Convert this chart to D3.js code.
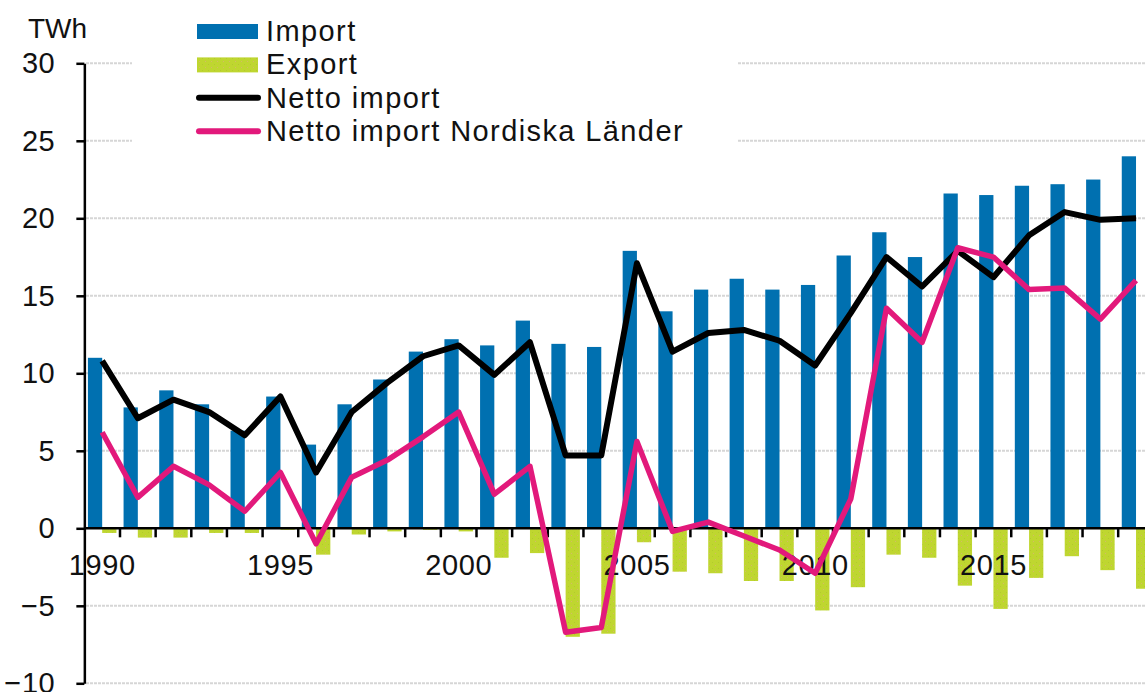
<!DOCTYPE html>
<html>
<head>
<meta charset="utf-8">
<script src="https://cdn.jsdelivr.net/npm/d3@7/dist/d3.min.js"></script>
<style>
  html, body { margin: 0; padding: 0; background: #fff; }
  svg { display: block; font-family: "Liberation Sans", Arial, sans-serif; }
</style>
</head>
<body>
<div class="chart"></div>
<script>
// data, TWh
const years = d3.range(1990, 2020);
const importValues = [11.0, 7.8, 8.9, 8.0, 6.3, 8.5, 5.4, 8.0, 9.6, 11.4,
  12.2, 11.8, 13.4, 11.9, 11.7, 17.9, 14.0, 15.4, 16.1, 15.4,
  15.7, 17.6, 19.1, 17.5, 21.6, 21.5, 22.1, 22.2, 22.5, 24.0];
const exportValues = [-0.3, -0.6, -0.6, -0.3, -0.3, -0.1, -1.7, -0.4, -0.2, -0.1,
  -0.2, -1.9, -1.6, -7.0, -6.8, -0.9, -2.8, -2.9, -3.4, -3.4,
  -5.3, -3.8, -1.7, -1.9, -3.7, -5.2, -3.2, -1.8, -2.7, -3.9];
const netImport = [10.8, 7.1, 8.3, 7.5, 6.0, 8.5, 3.6, 7.5, 9.4, 11.1,
  11.8, 9.9, 12.0, 4.7, 4.7, 17.1, 11.4, 12.6, 12.8, 12.1,
  10.5, 13.9, 17.5, 15.6, 17.9, 16.2, 18.9, 20.4, 19.9, 20.0];
const netNordic = [6.2, 2.0, 4.0, 2.8, 1.1, 3.6, -1.0, 3.3, 4.4, 5.9,
  7.5, 2.2, 4.0, -6.7, -6.4, 5.6, -0.2, 0.4, -0.5, -1.4,
  -2.9, 1.9, 14.2, 12.0, 18.1, 17.5, 15.4, 15.5, 13.5, 16.0];
const yTicks = [-10, -5, 0, 5, 10, 15, 20, 25, 30];
const labelYears = [1990, 1995, 2000, 2005, 2010, 2015];
const legendItems = ["Import", "Export", "Netto import", "Netto import Nordiska Länder"];

const width = 1145;
const height = 692;
const colors = { imp: "#0070b0", exp: "#bfd630", net: "#000000", nordic: "#e2197b" };

const svg = d3.select(".chart").append("svg")
  .attr("width", width)
  .attr("height", height);

// pattern for the dotted export bars
const defs = svg.append("defs");
const pat = defs.append("pattern")
  .attr("id", "dots")
  .attr("width", 6).attr("height", 6)
  .attr("patternUnits", "userSpaceOnUse");
pat.append("rect").attr("width", 6).attr("height", 6).attr("fill", colors.exp);
pat.append("rect").attr("x", 1).attr("y", 1).attr("width", 1).attr("height", 1).attr("fill", "#d4b86a");
pat.append("rect").attr("x", 4).attr("y", 4).attr("width", 1).attr("height", 1).attr("fill", "#b2cb2c");

// scales
const x = d3.scaleBand().domain(years).range([84.35, 84.35 + 35.65 * years.length]);
const x1 = d3.scaleBand().domain(["imp", "exp"]).range([0, x.bandwidth()]).paddingOuter(0.25);
const y = d3.scaleLinear().domain([-10, 30]).range([683.3, 63.3]);

// gridlines
svg.append("g")
  .selectAll("line")
  .data(yTicks.filter((d) => d !== 0))
  .enter()
  .append("line")
  .attr("x1", 86)
  .attr("x2", width)
  .attr("y1", (d) => y(d))
  .attr("y2", (d) => y(d))
  .attr("stroke", "#d6d6d6")
  .attr("stroke-width", 2)
  .attr("stroke-dasharray", "3,1");

// legend background covers the top gridlines
svg.append("rect")
  .attr("x", 132).attr("y", 0)
  .attr("width", 606).attr("height", 150)
  .attr("fill", "#fff");

// import bars
svg.append("g")
  .selectAll("rect")
  .data(years)
  .enter()
  .append("rect")
  .attr("x", (d) => x(d) + x1("imp"))
  .attr("width", x1.bandwidth())
  .attr("y", (d, i) => y(importValues[i]))
  .attr("height", (d, i) => y(0) - y(importValues[i]))
  .attr("fill", colors.imp);

// export bars
svg.append("g")
  .selectAll("rect")
  .data(years)
  .enter()
  .append("rect")
  .attr("x", (d) => x(d) + x1("exp"))
  .attr("width", x1.bandwidth())
  .attr("y", y(0))
  .attr("height", (d, i) => y(exportValues[i]) - y(0))
  .attr("fill", "url(#dots)");

// y axis
const yAxis = svg.append("g")
  .attr("transform", `translate(${x.range()[0]},0)`)
  .call(d3.axisLeft(y).tickValues(yTicks).tickSize(8).tickPadding(21).tickSizeOuter(0));
yAxis.select(".domain").attr("stroke", "#000").attr("stroke-width", 2.5);
yAxis.selectAll(".tick line").attr("stroke", "#000").attr("stroke-width", 2.5);
yAxis.selectAll(".tick text")
  .attr("font-size", 29)
  .attr("letter-spacing", 0.6)
  .attr("fill", "#111")
  .attr("font-family", "Liberation Sans, Arial, sans-serif");

// zero line with year ticks
svg.append("line")
  .attr("x1", x.range()[0])
  .attr("x2", width)
  .attr("y1", y(0))
  .attr("y2", y(0))
  .attr("stroke", "#000")
  .attr("stroke-width", 2.5);

svg.append("g")
  .selectAll("line")
  .data(years.slice(1))
  .enter()
  .append("line")
  .attr("x1", (d) => x(d))
  .attr("x2", (d) => x(d))
  .attr("y1", y(0))
  .attr("y2", y(0) + 9)
  .attr("stroke", "#000")
  .attr("stroke-width", 2.5);

svg.append("g")
  .selectAll("text")
  .data(labelYears)
  .enter()
  .append("text")
  .attr("x", (d) => x(d) + x.bandwidth() / 2)
  .attr("y", 575)
  .attr("text-anchor", "middle")
  .attr("font-size", 29)
  .attr("letter-spacing", 0.6)
  .attr("fill", "#111")
  .text((d) => d);

// lines
const line = (vals) => d3.line()
  .x((d) => x(d) + x.bandwidth() / 2)
  .y((d, i) => y(vals[i]))(years);

svg.append("path")
  .attr("d", line(netImport))
  .attr("fill", "none")
  .attr("stroke", colors.net)
  .attr("stroke-width", 6)
  .attr("stroke-linejoin", "round");

svg.append("path")
  .attr("d", line(netNordic))
  .attr("fill", "none")
  .attr("stroke", colors.nordic)
  .attr("stroke-width", 5.5)
  .attr("stroke-linejoin", "round");

// unit label
svg.append("text")
  .attr("x", 28).attr("y", 38)
  .attr("font-size", 28)
  .attr("fill", "#111")
  .text("TWh");

// legend
const legend = svg.append("g");
legendItems.forEach((name, i) => {
  const base = 41 + i * 33.4;
  if (i < 2) {
    legend.append("rect")
      .attr("x", 197).attr("y", base - 17)
      .attr("width", 61).attr("height", 15)
      .attr("fill", i === 0 ? colors.imp : "url(#dots)");
  } else {
    legend.append("line")
      .attr("x1", 199).attr("x2", 258)
      .attr("y1", base - 10).attr("y2", base - 10)
      .attr("stroke", i === 2 ? colors.net : colors.nordic)
      .attr("stroke-width", 6)
      .attr("stroke-linecap", "round");
  }
  legend.append("text")
    .attr("x", 266).attr("y", base)
    .attr("font-size", 29)
    .attr("letter-spacing", 1.4)
    .attr("fill", "#111")
    .text(name);
});
</script>
</body>
</html>
